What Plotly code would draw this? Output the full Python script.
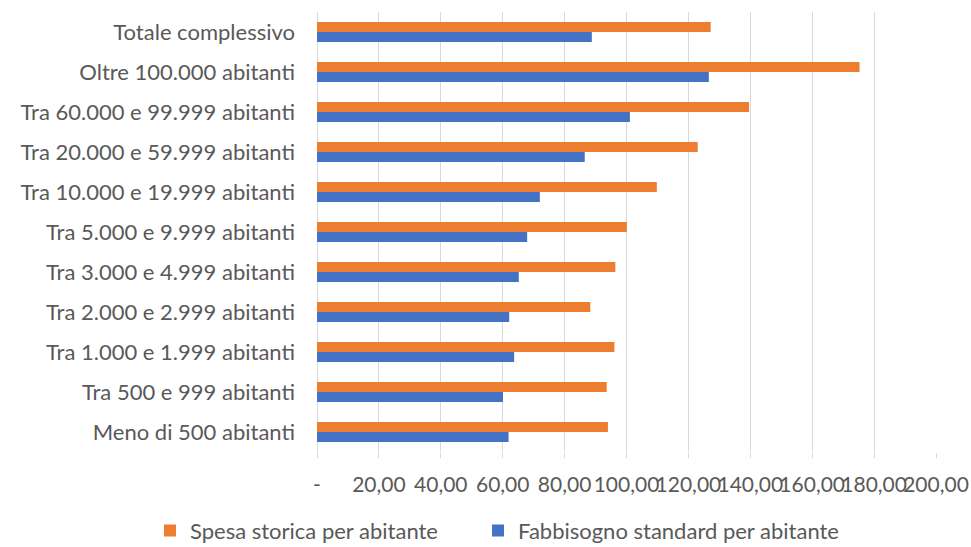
import plotly.graph_objects as go

# Categories listed from bottom to top (as displayed)
categories = [
    "Meno di 500 abitanti",
    "Tra 500 e 999 abitanti",
    "Tra 1.000 e 1.999 abitanti",
    "Tra 2.000 e 2.999 abitanti",
    "Tra 3.000 e 4.999 abitanti",
    "Tra 5.000 e 9.999 abitanti",
    "Tra 10.000 e 19.999 abitanti",
    "Tra 20.000 e 59.999 abitanti",
    "Tra 60.000 e 99.999 abitanti",
    "Oltre 100.000 abitanti",
    "Totale complessivo",
]
spesa_storica = [94.0, 93.6, 96.1, 88.3, 96.4, 100.1, 109.8, 123.0, 139.6, 175.3, 127.2]
fabbisogno_standard = [61.9, 60.1, 63.7, 62.1, 65.2, 67.9, 72.0, 86.5, 101.1, 126.6, 88.8]

tick_vals = [0, 20, 40, 60, 80, 100, 120, 140, 160, 180, 200]
tick_text = ["-", "20,00", "40,00", "60,00", "80,00", "100,00", "120,00",
             "140,00", "160,00", "180,00", "200,00"]

FONT = "Lato, 'Open Sans', sans-serif"
TXT = "#595959"

fig = go.Figure()
fig.add_trace(go.Bar(
    y=categories, x=fabbisogno_standard, orientation="h",
    name="Fabbisogno standard per abitante",
    marker=dict(color="#4472C4", line=dict(width=0)),
    legend="legend2",
))
fig.add_trace(go.Bar(
    y=categories, x=spesa_storica, orientation="h",
    name="Spesa storica per abitante",
    marker=dict(color="#ED7D31", line=dict(width=0)),
    legend="legend",
))

legend_common = dict(orientation="h", yref="container", y=0.03,
                     yanchor="middle", xref="container", xanchor="left",
                     font=dict(size=22, color=TXT), bgcolor="rgba(0,0,0,0)")

fig.update_layout(
    width=971, height=547,
    margin=dict(l=317, r=35, t=12, b=95),
    paper_bgcolor="white", plot_bgcolor="white",
    barmode="group", bargap=0.5, bargroupgap=0,
    font=dict(family=FONT, size=22, color=TXT),
    showlegend=True,
    legend=dict(x=150 / 971, **legend_common),
    legend2=dict(x=478 / 971, **legend_common),
    xaxis=dict(range=[0, 200], tickvals=tick_vals, ticktext=tick_text,
               tickangle=0,
               showgrid=True, gridcolor="#D9D9D9", gridwidth=1,
               zeroline=True, zerolinecolor="#D9D9D9", zerolinewidth=1,
               ticks="outside", ticklen=5, tickcolor="#D9D9D9",
               ticklabelstandoff=9, automargin=False,
               tickfont=dict(size=21, color=TXT), showline=False),
    yaxis=dict(showgrid=False, ticks="", ticklabelstandoff=21,
               automargin=False,
               tickfont=dict(size=22, color=TXT), showline=False),
)

fig.write_html(
    "out.html",
    config={"displayModeBar": False},
    post_script="document.body.style.margin='0';document.body.style.overflow='hidden';",
)
